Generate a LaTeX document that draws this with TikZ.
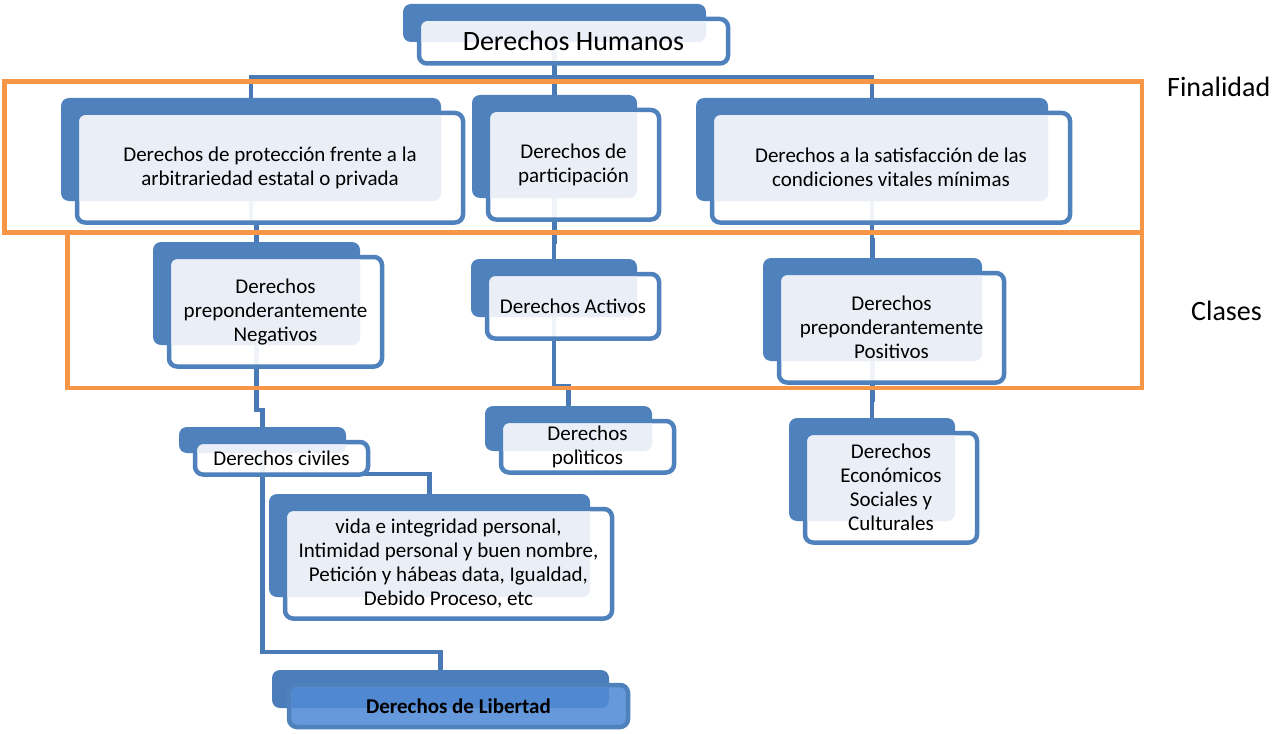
\documentclass[tikz,border=0pt]{standalone}
\usepackage{fontspec}
\setmainfont{Carlito}
\usetikzlibrary{calc}
\pgfdeclarelayer{bg}
\pgfdeclarelayer{fg}
\pgfsetlayers{bg,main,fg}
\definecolor{bblue}{HTML}{4F81BD}
\definecolor{cblue}{HTML}{4A7AB5}
\definecolor{lfill}{HTML}{EAEFF7}
\definecolor{oran}{HTML}{F79646}
\definecolor{libfront}{HTML}{6699DB}
\definecolor{libover}{HTML}{5089D1}
\definecolor{libback}{HTML}{4B7DBA}
\tikzset{
  backbox/.style={rectangle, rounded corners=8pt, fill=bblue, inner sep=0pt, outer sep=0pt},
  frontbox/.style={rectangle, rounded corners=8pt, draw=bblue, line width=4.5pt, fill=white, fill opacity=0.92, inner sep=0pt, outer sep=0pt},
  txt/.style={align=center, font=\fontsize{21}{24}\selectfont, text=black, inner sep=0pt},
  conn/.style={draw=cblue, line width=4.5pt},
  frame/.style={draw=oran, line width=4.5pt},
  side/.style={font=\fontsize{28}{32}\selectfont, text=black, inner sep=0pt, anchor=base west},
}
\newcommand\dbox[6]{%
  \node[backbox, minimum width=#4-#2, minimum height=#5-#3] (#1-b) at ({(#2+#4)/2},{(#3+#5)/2}) {};
  \node[frontbox, minimum width=#4-#2+6, minimum height=#5-#3+6.5] (#1) at ({(#2+#4)/2+19},{(#3+#5)/2+18.25}) {};
  \begin{scope}
    \clip[rounded corners=6pt] ($(#1.north west)+(2.25,2.25)$) rectangle ($(#1.south east)+(-2.25,-2.25)$);
    \fill[lfill, rounded corners=8pt] (#1-b.north west) rectangle (#1-b.south east);
  \end{scope}
  \node[txt] (#1-t) at (#1.center) {#6};
}
\begin{document}
\begin{tikzpicture}[x=1pt,y=-1pt]
\useasboundingbox (0,0) rectangle (1273,733);

% boxes
\dbox{top}{403}{4}{706}{42}{\fontsize{28}{32}\selectfont Derechos Humanos}
\dbox{f1}{61}{98}{441}{201}{Derechos de protección frente a la\\arbitrariedad estatal o privada}
\dbox{f2}{472}{95}{637}{198}{Derechos de\\participación}
\dbox{f3}{696}{98}{1048}{201}{Derechos a la satisfacción de las\\condiciones vitales mínimas}
\dbox{neg}{153}{242}{360}{345}{Derechos\\preponderantemente\\Negativos}
\dbox{act}{471}{259}{637}{317}{Derechos Activos}
\dbox{pos}{763}{258}{982}{361}{Derechos\\preponderantemente\\Positivos}
\dbox{civ}{179}{427}{346}{453}{Derechos civiles}
\dbox{pol}{485}{406}{652}{451}{Derechos\\polìticos}
\dbox{eco}{789}{418}{955}{521}{Derechos\\Económicos\\Sociales y\\Culturales}
\dbox{vida}{269}{494}{590}{597}{vida e integridad personal,\\Intimidad personal y buen nombre,\\Petición y hábeas data, Igualdad,\\Debido Proceso, etc}

% Derechos de Libertad
\node[backbox, fill=libback, minimum width=337, minimum height=38] (lib-b) at (440.5,689) {};
\node[frontbox, fill=libfront, fill opacity=1, minimum width=339, minimum height=42] (lib) at (458.5,706) {};
\begin{scope}
  \clip[rounded corners=6pt] ($(lib.north west)+(2.25,2.25)$) rectangle ($(lib.south east)+(-2.25,-2.25)$);
  \fill[libover, rounded corners=8pt] (lib-b.north west) rectangle (lib-b.south east);
\end{scope}
\node[txt, font=\fontsize{21}{24}\selectfont\bfseries] (lib-t) at (lib.center) {Derechos de Libertad};

% connectors
\coordinate (m0) at (0,77.5);
\coordinate (m1) at (0,222.5);
\coordinate (m2) at (0,242);
\coordinate (m3) at (0,240);
\coordinate (m4) at (0,410);
\coordinate (m5) at (0,386);
\coordinate (m6) at (0,400);
\coordinate (m7) at (0,474);
\coordinate (m8) at (0,652);
\begin{pgfonlayer}{bg}
  \draw[conn] (top-b.south) -- (top-b.south |- m0) -| (f1-b.north);
  \draw[conn] (top-b.south) -- (top-b.south |- m0) -| (f2-b.north);
  \draw[conn] (top-b.south) -- (top-b.south |- m0) -| (f3-b.north);
  \draw[conn] (f1-b.south) -- (f1-b.south |- m1) -| (neg-b.north);
  \draw[conn] (f2-b.south) -- (f2-b.south |- m2) -| (act-b.north);
  \draw[conn] (f3-b.south) -- (f3-b.south |- m3) -| (pos-b.north);
  \draw[conn] (neg-b.south) -- (neg-b.south |- m4) -| (civ-b.north);
  \draw[conn] (act-b.south) -- (act-b.south |- m5) -| (pol-b.north);
  \draw[conn] (pos-b.south) -- (pos-b.south |- m6) -| (eco-b.north);
  \draw[conn] (civ-b.south) -- (civ-b.south |- m7) -| (vida-b.north);
  \draw[conn] (civ-b.south) -- (civ-b.south |- m8) -| (lib-b.north);
\end{pgfonlayer}

% orange frames
\begin{pgfonlayer}{fg}
  \draw[frame] (4.5,81.5) rectangle (1142,232.5);
  \draw[frame] (67.5,232.5) rectangle (1142,388);
\end{pgfonlayer}

\node[side] (fin) at (1167,97) {Finalidad};
\node[side] (cla) at (1191,320) {Clases};
\end{tikzpicture}
\end{document}
